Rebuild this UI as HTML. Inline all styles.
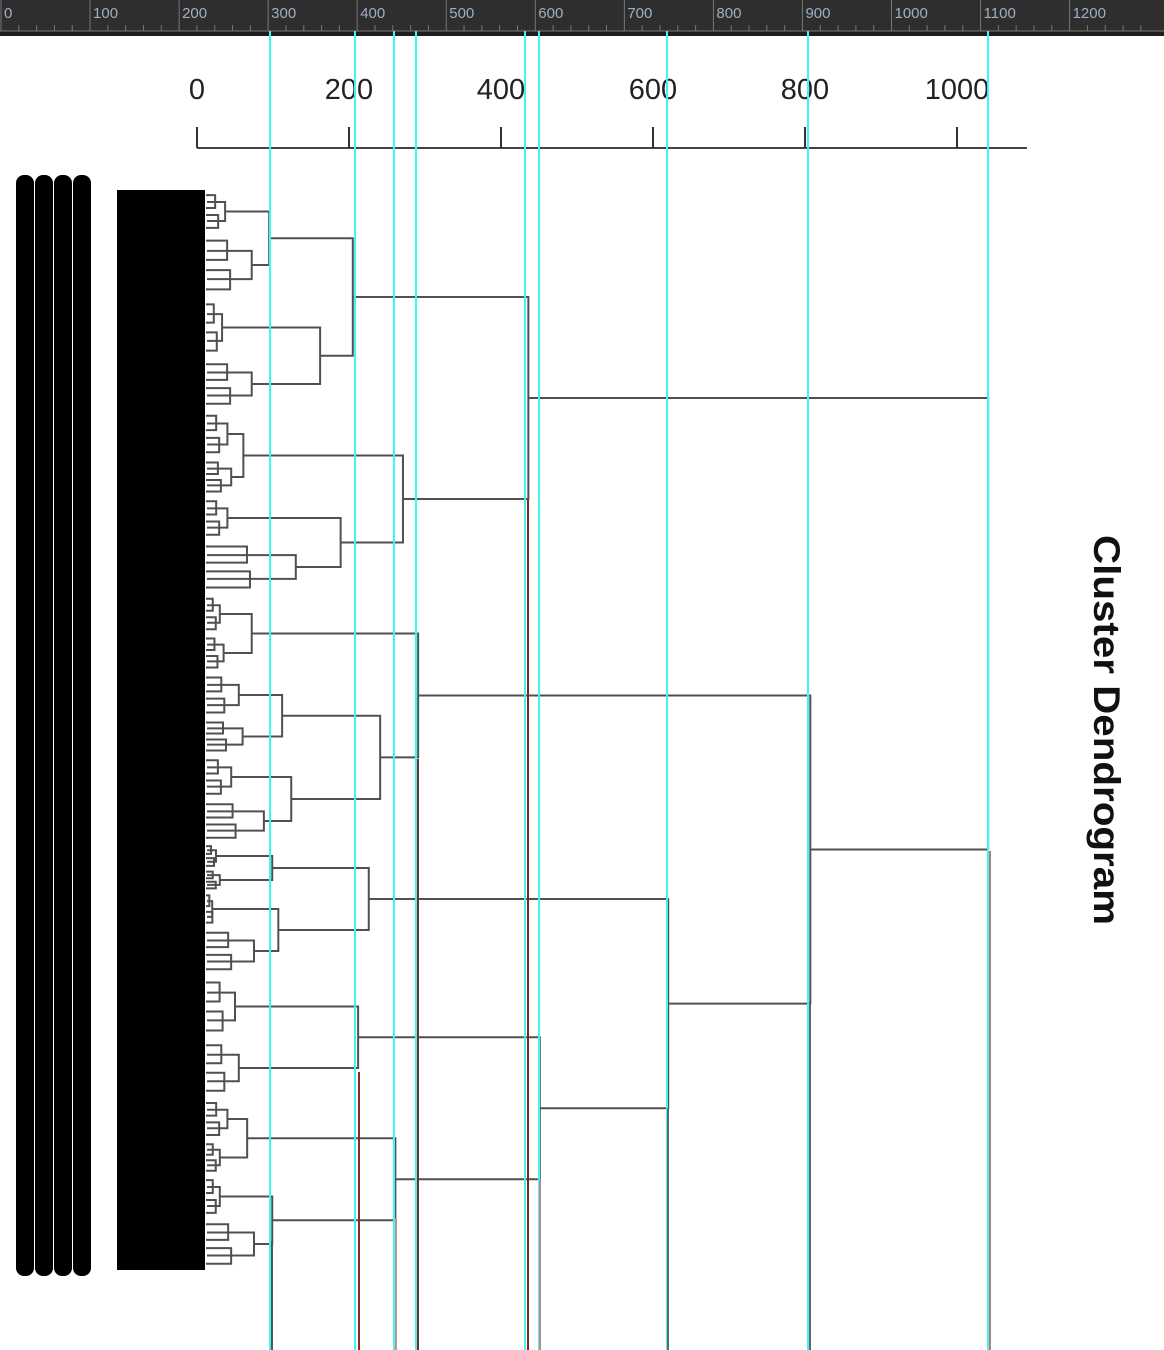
<!DOCTYPE html>
<html><head><meta charset="utf-8"><style>
html,body{margin:0;padding:0;background:#fff;}
svg{display:block;}
</style></head>
<body>
<svg id="chart" width="1164" height="1350" viewBox="0 0 1164 1350" xmlns="http://www.w3.org/2000/svg">
  <g id="ruler"></g>
  <g id="leafbars"></g>
  <g id="axis"></g>
  <g id="tree"></g>
  <g id="guides"></g>
  <text x="0" y="0" transform="translate(1094,535) rotate(90)" font-family="Liberation Sans, sans-serif" font-weight="bold" font-size="37" textLength="390" lengthAdjust="spacingAndGlyphs" fill="#111">Cluster Dendrogram</text>
</svg>
<script>
// ---- data ----
const axisTicks = [0, 200, 400, 600, 800, 1000];
const rulerLabels = [0, 100, 200, 300, 400, 500, 600, 700, 800, 900, 1000, 1100, 1200];
// leaf clusters in display order: number of observations and their own merge height
const leafSizes =   [43, 64, 61, 52, 48, 38, 44, 54, 40, 38, 46, 37, 44, 44, 26, 22, 36, 48, 63, 60, 42, 35, 43, 52];
const leafHeights = [37, 72, 33, 72, 40, 45, 40, 130, 30, 35, 55, 60, 45, 88, 25, 30, 20, 75, 50, 55, 40, 30, 30, 75];
// merge heights (A1a, A1b, A2a, A2b, B1a, B1b1, B1b2, B1b, B2a1, B2a2, B2a, B2b1, B2b2a, B2b2b, B2b2, A1, A2, A, B1, B2b, B2, B, root)
const mergeHeight = [95, 162, 61, 189, 72, 112, 124, 241, 99, 107, 226, 212, 66, 99, 261, 205, 271, 436, 291, 451, 620, 807, 1041];
</script>
<script>
const NS = "http://www.w3.org/2000/svg";
function el(tag, attrs, parent){const e=document.createElementNS(NS,tag);for(const k in attrs)e.setAttribute(k,attrs[k]);parent.appendChild(e);return e;}
const X0 = 197, KX = 0.76;
function xs(v){return X0 + v*KX;}
const Y0 = 190, Y1 = 1270;

// ruler
const ruler = document.getElementById('ruler');
el('rect',{x:0,y:0,width:1164,height:31,fill:'#2e2e2e'},ruler);
el('rect',{x:0,y:31,width:1164,height:5,fill:'#1e1e1e'},ruler);
el('line',{x1:0,y1:31,x2:1164,y2:31,stroke:'#7a7a7a','stroke-width':1},ruler);
rulerLabels.forEach((v)=>{
  const x = 1 + v*0.8905;
  const g = el('line',{x1:x,y1:0,x2:x,y2:31,stroke:'#777','stroke-width':1},ruler);
  
  
  for(let m=1;m<5;m++){const mx=x+m*17.81;el('line',{x1:mx,y1:25,x2:mx,y2:31,stroke:'#777','stroke-width':1},ruler);}
  const t = el('text',{x:x+3,y:18,'font-family':'Liberation Sans, sans-serif','font-size':15,fill:'#9fb0c4'},ruler);
  t.textContent = v;
  
  
});

// leaf label bars and block
const lb = document.getElementById('leafbars');
[16,35,54,73].forEach(x=>{
  const r = el('rect',{x:x,y:175,width:18,height:1101,rx:8,fill:'#000'},lb);
  
  
});
const blk = el('rect',{x:117,y:Y0,width:88,height:Y1-Y0,fill:'#000'},lb);



// axis
const ax = document.getElementById('axis');
const axl = el('line',{x1:xs(0),y1:148,x2:1027,y2:148,stroke:'#444','stroke-width':2},ax);


axisTicks.forEach(v=>{
  const tk = el('line',{x1:xs(v),y1:127,x2:xs(v),y2:148,stroke:'#333','stroke-width':2},ax);
  
  
  const t = el('text',{x:xs(v),y:99,'text-anchor':'middle','font-family':'Liberation Sans, sans-serif','font-size':29,fill:'#222'},ax);
  t.textContent = v;
  
  
});

// tree
const tree = document.getElementById('tree');
const total = leafSizes.reduce((a,b)=>a+b,0);
const leafY = [], leafTop = [], leafBot = [];
let acc = 0;
leafSizes.forEach((s,i)=>{
  leafTop.push(Y0 + acc/total*(Y1-Y0));
  acc += s;
  leafBot.push(Y0 + acc/total*(Y1-Y0));
  leafY.push((leafTop[i]+leafBot[i])/2);
});
// structure: negative = leaf index (-(i+1)), positive = node index (1-based)
const nodes = [
 {l:-1,r:-2,h:mergeHeight[0]},
 {l:-3,r:-4,h:mergeHeight[1]},
 {l:-5,r:-6,h:mergeHeight[2]},
 {l:-7,r:-8,h:mergeHeight[3]},
 {l:-9,r:-10,h:mergeHeight[4]},
 {l:-11,r:-12,h:mergeHeight[5]},
 {l:-13,r:-14,h:mergeHeight[6]},
 {l:6,r:7,h:mergeHeight[7]},
 {l:-15,r:-16,h:mergeHeight[8]},
 {l:-17,r:-18,h:mergeHeight[9]},
 {l:9,r:10,h:mergeHeight[10]},
 {l:-19,r:-20,h:mergeHeight[11]},
 {l:-21,r:-22,h:mergeHeight[12]},
 {l:-23,r:-24,h:mergeHeight[13]},
 {l:13,r:14,h:mergeHeight[14]},
 {l:1,r:2,h:mergeHeight[15]},
 {l:3,r:4,h:mergeHeight[16]},
 {l:16,r:17,h:mergeHeight[17]},
 {l:5,r:8,h:mergeHeight[18]},
 {l:12,r:15,h:mergeHeight[19]},
 {l:11,r:20,h:mergeHeight[20]},
 {l:19,r:21,h:mergeHeight[21]},
 {l:18,r:22,h:mergeHeight[22]}
];
function info(ref){
  if(ref<0){const i=-ref-1;return {y:leafY[i],h:leafHeights[i]};}
  const n=nodes[ref-1];return {y:n.y,h:n.h};
}
const stroke = '#505050';
leafSizes.forEach((s,i)=>{
  const g = el('g',{},tree);
  
  
  const hx = xs(leafHeights[i]);
  const span = (leafBot[i]-leafTop[i]);
  const ya = leafTop[i]+span*0.28, yb = leafBot[i]-span*0.28;
  el('path',{d:`M207 ${ya} H${hx} V${yb} H207`,fill:'none',stroke:stroke,'stroke-width':2},g);
  const sx = 207 + (hx-207)*0.45;
  const ya2 = leafTop[i]+span*0.12, yb2 = leafTop[i]+span*0.42;
  el('path',{d:`M206 ${ya2} H${sx} V${yb2} H206`,fill:'none',stroke:stroke,'stroke-width':2},g);
  const yc2 = leafBot[i]-span*0.42, yd2 = leafBot[i]-span*0.12;
  el('path',{d:`M206 ${yc2} H${sx+3} V${yd2} H206`,fill:'none',stroke:stroke,'stroke-width':2},g);
});
nodes.forEach(n=>{
  const a=info(n.l), b=info(n.r);
  n.y=(a.y+b.y)/2;
  const x=xs(n.h);
  const p = el('path',{d:`M${xs(a.h)} ${a.y} H${x} V${b.y} H${xs(b.h)}`,fill:'none',stroke:stroke,'stroke-width':2},tree);
  
  
});

// guides
const gd = document.getElementById('guides');
const cyanX = [270,355,394,416,525,539,667,808,988];
cyanX.forEach(x=>{
  const l = el('line',{x1:x,y1:31,x2:x,y2:1350,stroke:'#3ff6f6','stroke-width':2},gd);
  
  
});
[[272,1241,'#555'],[359,1072,'#8a2a2a'],[396,1218,'#c89090'],[418,759,'#7a2a2a'],[528,500,'#8a2020'],[540,1180,'#c08888'],[668,1108,'#666'],[810,1004,'#666'],[990,851,'#b08080']].forEach(d=>{
  const l = el('line',{x1:d[0],y1:d[1],x2:d[0],y2:1350,stroke:d[2],'stroke-width':2},gd);
  
  
});
</script>
</body></html>
